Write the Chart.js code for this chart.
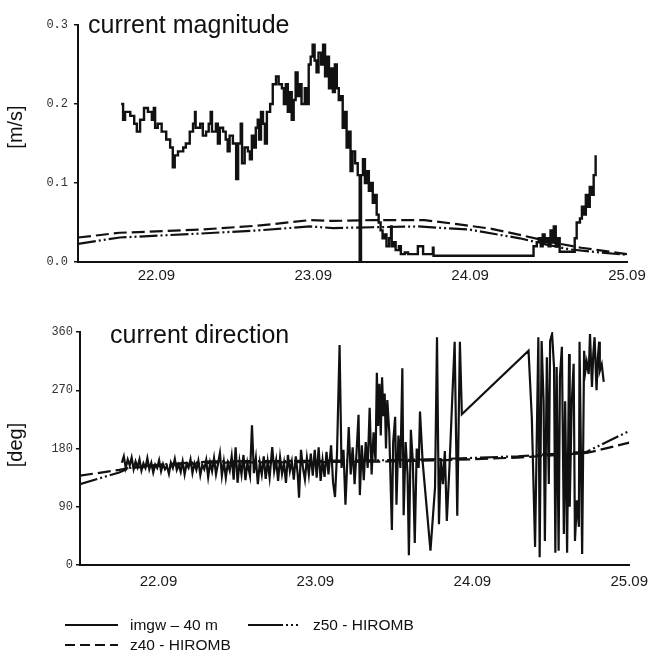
<!DOCTYPE html>
<html>
<head>
<meta charset="utf-8">
<script src="https://cdn.jsdelivr.net/npm/chart.js@4.4.1/dist/chart.umd.min.js"></script>
<style>
  body { margin: 0; background: #fff; width: 656px; height: 661px; position: relative; overflow: hidden;
         font-family: "Liberation Sans", Arial, sans-serif; color: #111; }
  .pane { position: absolute; left: 0; }
  .title { position: absolute; font-size: 25px; line-height: 25px; white-space: nowrap; }
  .ytitle { position: absolute; font-size: 20px; line-height: 20px; white-space: nowrap;
            transform: translate(-50%, -50%) rotate(-90deg); }
  .leg { position: absolute; font-size: 15.5px; line-height: 18px; white-space: nowrap; }
</style>
</head>
<body>
<div class="pane" style="top:0"><canvas id="speedChart" width="656" height="300"></canvas></div>
<div class="pane" style="top:310px"><canvas id="dirChart" width="656" height="290"></canvas></div>

<div class="title" style="left:88px; top:12px">current magnitude</div>
<div class="title" style="left:110px; top:322px">current direction</div>
<div class="ytitle" style="left:15px; top:127px">[m/s]</div>
<div class="ytitle" style="left:15px; top:445px">[deg]</div>

<svg style="position:absolute; left:0; top:0" width="656" height="661">
  <line x1="65" y1="625" x2="118" y2="625" stroke="#111" stroke-width="2"/>
  <line x1="248" y1="625" x2="300" y2="625" stroke="#111" stroke-width="2" stroke-dasharray="35,3,2,3,2,3,2"/>
  <line x1="65" y1="645" x2="118" y2="645" stroke="#111" stroke-width="2" stroke-dasharray="10,5"/>
</svg>
<div class="leg" style="left:130px; top:616px">imgw – 40 m</div>
<div class="leg" style="left:313px; top:616px">z50 - HIROMB</div>
<div class="leg" style="left:130px; top:636px">z40 - HIROMB</div>

<script>
// time axis in hours from 22.09 00:00
var tickHours = [0, 24, 48, 72];
var tickLabels = ['22.09', '23.09', '24.09', '25.09'];

// current magnitude [m/s], measured (imgw - 40 m)
var imgwSpeed = [
  [-5.4,0.20],[-5.1,0.18],[-4.8,0.19],[-4.0,0.185],[-3.4,0.175],[-3.0,0.165],[-2.5,0.18],[-1.9,0.195],
  [-1.3,0.19],[-0.7,0.18],[-0.4,0.195],[-0.2,0.17],[0.2,0.175],[0.8,0.165],[1.5,0.155],[2.1,0.145],
  [2.5,0.12],[2.8,0.135],[3.3,0.14],[4.1,0.145],[4.5,0.15],[5.1,0.165],[5.6,0.175],[5.9,0.19],
  [6.0,0.17],[6.7,0.175],[7.1,0.16],[7.6,0.165],[8.0,0.175],[8.3,0.19],[8.5,0.165],[9.1,0.175],
  [9.4,0.15],[9.7,0.17],[10.2,0.165],[10.6,0.155],[10.9,0.14],[11.2,0.16],[11.7,0.15],[12.2,0.105],
  [12.5,0.15],[12.9,0.175],[13.1,0.125],[13.5,0.145],[14.0,0.14],[14.3,0.13],[14.6,0.16],[14.9,0.145],
  [15.2,0.17],[15.5,0.18],[15.7,0.155],[16.0,0.19],[16.3,0.175],[16.6,0.15],[16.9,0.19],[17.4,0.20],
  [17.8,0.225],[18.3,0.235],[18.7,0.225],[19.2,0.22],[19.5,0.20],[19.8,0.225],[20.1,0.19],[20.4,0.215],
  [20.7,0.18],[21.0,0.205],[21.3,0.24],[21.6,0.21],[21.9,0.225],[22.2,0.20],[22.7,0.22],[23.0,0.20],
  [23.3,0.25],[23.6,0.26],[23.9,0.275],[24.2,0.255],[24.5,0.24],[24.8,0.265],[25.2,0.25],[25.5,0.275],
  [25.8,0.235],[26.1,0.26],[26.4,0.22],[26.7,0.245],[27.0,0.215],[27.3,0.25],[27.6,0.22],[27.9,0.205],
  [28.2,0.21],[28.5,0.17],[28.8,0.19],[29.1,0.145],[29.4,0.165],[29.7,0.115],[30.0,0.14],[30.4,0.125],
  [30.8,0.11],[31.1,0.0],[31.3,0.11],[31.6,0.13],[31.9,0.10],[32.2,0.115],[32.5,0.09],[32.8,0.10],
  [33.1,0.075],[33.4,0.085],[33.7,0.06],[34.0,0.05],[34.3,0.04],[34.6,0.03],[34.9,0.035],[35.2,0.02],
  [35.6,0.03],[35.9,0.045],[36.0,0.02],[36.3,0.025],[36.6,0.015],[37.1,0.02],[37.4,0.01],[38.0,0.012],
  [38.5,0.01],[39.8,0.01],[40.0,0.02],[40.8,0.01],[42.1,0.01],[42.3,0.018],[42.4,0.008],[57.6,0.008],
  [57.7,0.02],[58.2,0.025],[58.5,0.03],[58.8,0.02],[59.1,0.035],[59.4,0.025],[59.7,0.03],[60.0,0.02],
  [60.3,0.04],[60.5,0.025],[60.8,0.045],[61.1,0.02],[61.4,0.03],[61.7,0.013],[63.7,0.013],[64.0,0.03],
  [64.3,0.05],[64.8,0.055],[65.1,0.07],[65.4,0.06],[65.7,0.085],[66.0,0.07],[66.3,0.095],[66.6,0.085],
  [66.9,0.11],[67.2,0.135]
];

// model magnitudes [m/s]
var z40Speed = [
  [-12,0.031],[-5.6,0.037],[6.7,0.041],[15.5,0.046],[23.5,0.053],[27,0.052],[33,0.053],[41,0.053],
  [46,0.048],[51.3,0.042],[56.3,0.033],[60.5,0.025],[65,0.018],[72,0.01]
];
var z50Speed = [
  [-12,0.023],[-5.6,0.031],[6.7,0.036],[15.5,0.04],[23.5,0.045],[27,0.043],[33,0.044],[40,0.045],
  [47.9,0.041],[55.6,0.03],[59.7,0.022],[63.2,0.016],[68,0.012],[72,0.009]
];

// current direction [deg], measured (imgw - 40 m)
var imgwDir = [
  [-5.6,158],[-5.3,168],[-5.0,150],[-4.7,163],[-4.4,154],[-4.1,166],[-3.8,148],[-3.5,160],[-3.2,151],
  [-2.9,163],[-2.6,146],[-2.3,157],[-2.0,150],[-1.7,165],[-1.4,148],[-1.1,158],[-0.8,143],[-0.5,155],
  [-0.2,150],[0.1,162],[0.4,145],[0.7,156],[1.0,148],[1.3,153],[1.6,141],[1.9,158],[2.2,150],[2.5,164],
  [2.8,147],[3.1,155],[3.4,144],[3.7,160],[4.0,140],[4.3,156],[4.6,150],[4.9,163],[5.2,142],[5.5,157],
  [5.8,147],[6.1,161],[6.4,139],[6.7,155],[7.0,148],[7.3,162],[7.6,136],[7.9,158],[8.2,145],[8.5,165],
  [8.8,140],[9.1,156],[9.4,173],[9.7,138],[10.0,160],[10.3,135],[10.6,157],[10.9,146],[11.2,168],
  [11.5,132],[11.8,182],[12.1,127],[12.4,160],[12.7,140],[13.0,170],[13.3,131],[13.6,158],[14.0,138],
  [14.3,216],[14.6,142],[14.9,165],[15.2,125],[15.5,158],[15.8,140],[16.1,168],[16.4,133],[16.7,160],
  [17.0,135],[17.4,182],[17.7,145],[18.0,162],[18.3,130],[18.6,166],[18.9,141],[19.2,158],[19.5,127],
  [19.8,170],[20.1,145],[20.4,160],[20.7,132],[21.0,168],[21.3,140],[21.5,104],[21.8,178],[22.1,150],
  [22.4,132],[22.7,165],[23.0,140],[23.3,172],[23.6,138],[23.9,178],[24.2,135],[24.5,182],[24.8,130],
  [25.1,162],[25.4,136],[25.7,175],[26.0,140],[26.4,185],[26.7,128],[27.0,105],[27.3,170],
  [27.7,340],[28.0,150],[28.3,178],[28.6,93],[28.9,165],[29.1,213],[29.4,140],[29.7,182],[30.0,125],
  [30.3,175],[30.6,232],[30.8,108],[31.1,185],[31.4,131],[31.7,190],[32.0,150],[32.3,243],[32.6,140],
  [32.9,205],[33.2,160],[33.4,297],[33.6,215],[33.8,280],[34.0,200],[34.2,290],[34.4,230],[34.6,265],
  [34.8,180],[35.0,255],[35.3,205],[35.7,54],[35.9,190],[36.2,229],[36.4,93],[36.7,200],[37.0,150],
  [37.3,304],[37.5,77],[37.8,190],[38.1,140],[38.3,15],[38.6,209],[38.9,160],[39.2,34],[39.5,180],
  [39.8,150],[40.0,237],[40.4,160],[41.6,22],[42.3,120],[42.6,352],[42.9,63],[43.2,165],[43.5,125],
  [43.8,176],[44.1,68],[44.5,150],[44.9,249],[45.3,345],[45.7,76],[46.1,345],[46.4,233],
  [56.6,331],[57.1,228],[57.6,28],[58.1,352],[58.3,12],[58.6,346],[58.9,253],[59.1,37],[59.4,321],
  [59.7,125],[59.9,346],[60.2,357],[60.5,306],[60.7,19],[60.9,306],[61.2,22],[61.4,290],[61.7,337],
  [62.0,48],[62.2,253],[62.5,19],[62.8,326],[62.9,90],[63.2,249],[63.5,311],[63.7,37],[64.0,100],
  [64.3,59],[64.4,345],[64.8,17],[65.1,331],[65.3,300],[65.5,314],[65.8,295],[66.0,357],[66.3,275],
  [66.5,325],[66.7,352],[67.0,270],[67.2,320],[67.4,345],[67.5,300],[67.8,310],[68.1,283]
];

// model directions [deg]
var z40Dir = [[-12,138],[-6,147],[-4.4,150],[0,153],[8,158],[24,159],[36,160],[44,162],[55,166],[65.5,173],[72,189]];
var z50Dir = [[-12,125],[-6,143],[-4.4,150],[0,155],[8,160],[24,161],[36,162],[44,164],[55,168],[65.5,175],[72,207]];

var ink = '#111';
var z50Dash = [18, 3, 2, 3, 2, 3];
var z40Dash = [13, 5];

function pts(arr) {
  return arr.map(function (p) { return { x: p[0], y: p[1] }; });
}

function makeChart(id, cfg) {
  return new Chart(document.getElementById(id).getContext('2d'), {
    type: 'line',
    data: {
      datasets: [
        { label: 'z40 - HIROMB', data: pts(cfg.z40), borderColor: ink, borderWidth: 2.2, borderDash: z40Dash, pointRadius: 0 },
        { label: 'z50 - HIROMB', data: pts(cfg.z50), borderColor: ink, borderWidth: 2.2, borderDash: z50Dash, pointRadius: 0 },
        { label: 'imgw - 40 m', data: pts(cfg.imgw), borderColor: ink, borderWidth: cfg.lw, stepped: cfg.stepped, pointRadius: 0 }
      ]
    },
    options: {
      responsive: false,
      animation: false,
      devicePixelRatio: 1,
      layout: { padding: cfg.padding },
      plugins: { legend: { display: false }, tooltip: { enabled: false } },
      scales: {
        x: {
          type: 'linear',
          min: -12,
          max: 72,
          afterBuildTicks: function (s) { s.ticks = tickHours.map(function (v) { return { value: v }; }); },
          afterFit: function (s) { s.height = cfg.xHeight; },
          grid: { display: false, drawTicks: false },
          border: { color: ink, width: 2 },
          ticks: {
            padding: cfg.xPad,
            color: '#1a1a1a',
            font: { family: 'Liberation Sans', size: 15 },
            maxRotation: 0,
            callback: function (v) { return tickLabels[tickHours.indexOf(v)]; }
          }
        },
        y: {
          min: 0,
          max: cfg.yMax,
          afterFit: function (s) { s.width = cfg.yWidth; },
          grid: { drawOnChartArea: false, tickLength: 4, color: ink, lineWidth: 1.5 },
          border: { color: ink, width: 2 },
          ticks: {
            stepSize: cfg.yStep,
            padding: cfg.yPad,
            color: '#333',
            font: { family: 'Liberation Mono', size: 12 },
            callback: cfg.yFmt
          }
        }
      }
    }
  });
}

makeChart('speedChart', {
  z40: z40Speed, z50: z50Speed, imgw: imgwSpeed, lw: 2.4, stepped: true,
  padding: { left: 0, right: 29, top: 25, bottom: 0 },
  xHeight: 38, xPad: 5, yWidth: 78, yPad: 6, yMax: 0.3, yStep: 0.1,
  yFmt: function (v) { return v.toFixed(1); }
});

makeChart('dirChart', {
  z40: z40Dir, z50: z50Dir, imgw: imgwDir, lw: 2.2, stepped: false,
  padding: { left: 0, right: 25, top: 22, bottom: 0 },
  xHeight: 35, xPad: 8, yWidth: 80, yPad: 3, yMax: 360, yStep: 90,
  yFmt: function (v) { return String(v); }
});
</script>
</body>
</html>
